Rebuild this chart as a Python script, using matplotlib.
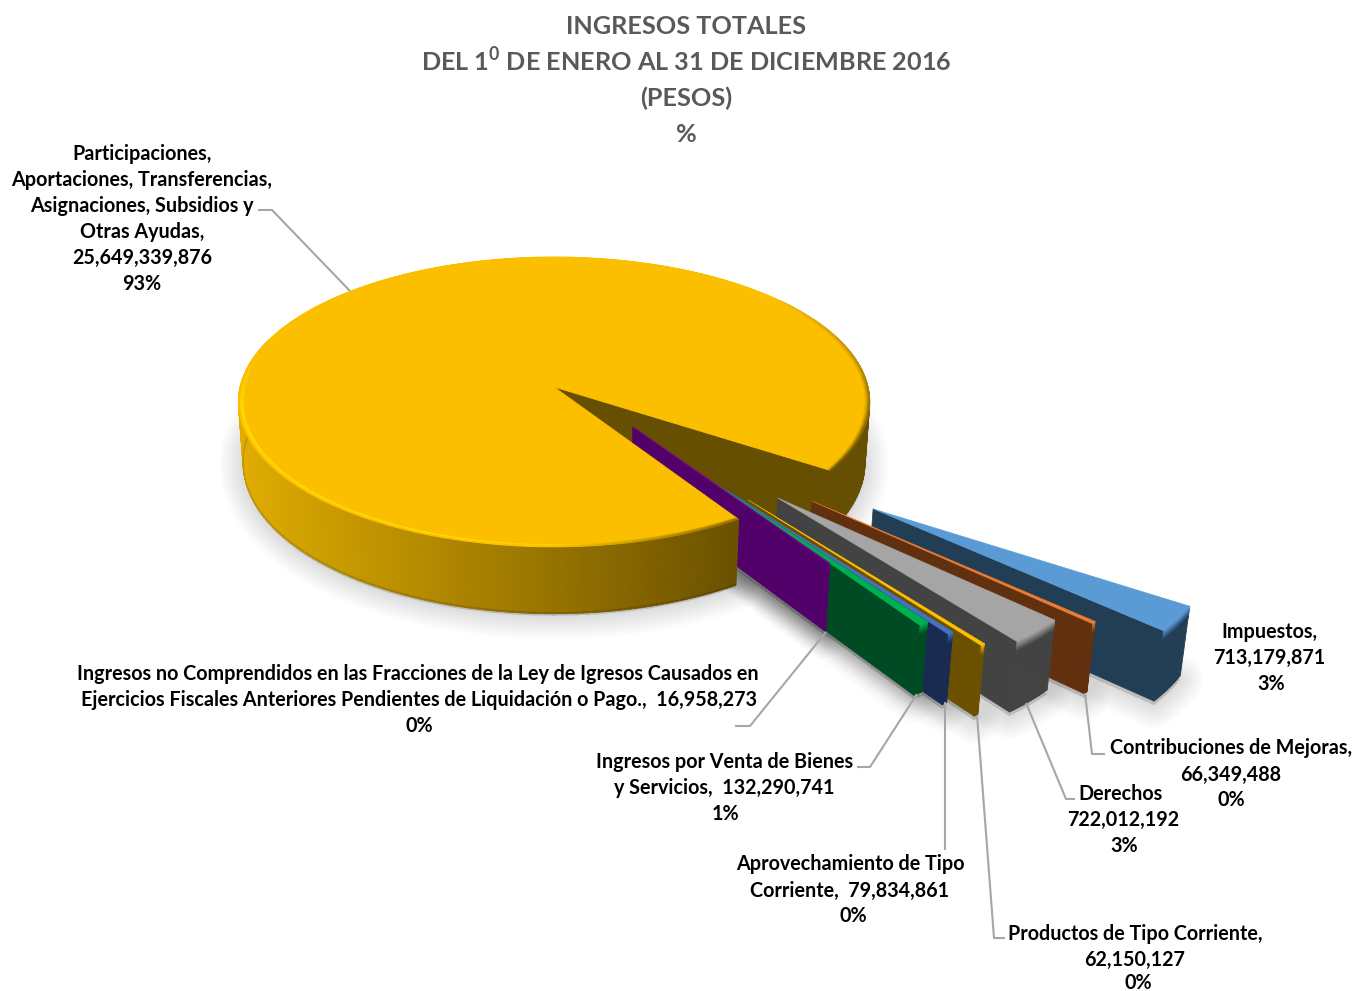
import numpy as np
import matplotlib
matplotlib.use("Agg")
import matplotlib.pyplot as plt
from matplotlib.collections import PolyCollection
from matplotlib.patches import Polygon

FONT = ['Lato', 'DejaVu Sans']
plt.rcParams['font.family'] = FONT
plt.rcParams['mathtext.fontset'] = 'custom'
plt.rcParams['mathtext.bf'] = 'Lato:bold'
plt.rcParams['mathtext.rm'] = 'Lato:bold'

# ---------- data ----------
main_name = ["Participaciones,", "Aportaciones, Transferencias,", "Asignaciones, Subsidios y", "Otras Ayudas,",
             "25,649,339,876", "93%"]
main_value = 25649339876
slice_values = [713179871, 66349488, 722012192, 62150127, 79834861, 132290741, 16958273]
slice_labels = [
    ["Impuestos,", "713,179,871", "3%"],
    ["Contribuciones de Mejoras,", "66,349,488", "0%"],
    ["Derechos", "722,012,192", "3%"],
    ["Productos de Tipo Corriente,", "62,150,127", "0%"],
    ["Aprovechamiento de Tipo", "Corriente,  79,834,861", "0%"],
    ["Ingresos por Venta de Bienes", "y Servicios,  132,290,741", "1%"],
    ["Ingresos no Comprendidos en las Fracciones de la Ley de Igresos Causados en",
     "Ejercicios Fiscales Anteriores Pendientes de Liquidación o Pago.,  16,958,273", "0%"],
]
title_lines = ["INGRESOS TOTALES", r"DEL 1$^{\mathbf{0}}$ DE ENERO AL 31 DE DICIEMBRE 2016", "(PESOS)", "%"]

# ---------- style / layout ----------
top_colors = ['#5B9BD5', '#ED7D31', '#A5A5A5', '#FFC000', '#4472C4', '#00B050', '#85009B']
wall_colors = ['#223E55', '#60300F', '#434343', '#6B5000', '#1A2B52', '#004B23', '#52006A']
explode_dist = [1.216, 1.054, 0.972, 0.924, 0.831, 0.753, 0.363]
explode_dir = [40.0, 44.2, 47.5, 52.0, 52.8, 52.8, 48.4]
label_pos = [
    [(1269, 630), (1269, 656), (1271, 682)],
    [(1231, 747), (1231, 773), (1231, 799)],
    [(1121, 792), (1123, 818), (1124, 844)],
    [(1135, 932), (1135, 958), (1138, 981.5)],
    [(850, 863), (850, 889), (853, 915)],
    [(725, 761), (724, 786), (725, 813)],
    [(418, 673), (419, 699), (419, 725)],
]
main_label_pos = [(142, 152), (142, 178), (142, 204), (142, 230), (142, 256), (142, 282)]
title_pos = [(686, 26), (686, 64), (686, 98), (686, 134)]
leaders = [
    None,
    [(1085, 693), (1092, 754), (1105, 754)],
    [(1026, 703), (1066, 799), (1075, 799)],
    [(977, 715), (994, 938), (1005, 938)],
    [(945, 702), (945, 850)],
    [(917, 694), (870, 767), (857, 767)],
    [(826, 632), (750, 726), (735, 726)],
]
main_leader = [(350, 291), (272, 210), (258, 210)]
TOP_YELLOW = np.array([252, 191, 0]) / 255
HILITE = np.array([255, 222, 0]) / 255
BROWN = np.array([102, 79, 0]) / 255

CX, CY, A, B, K, KZ, H = 555.0, 387.0, 314.0, 143.4, 0.103, 0.015, 60.0
R_SLICE = 0.977
MAIN_OU = -0.003                 # small shift of the large slice


def project(u, v, z=0.0):
    u, v = np.asarray(u, float), np.asarray(v, float)
    w = 1 - K * v
    return CX + A * u / (w * (1 + KZ * z)), CY + (B * v + H * z) / w


def rgb(c):
    return np.array(matplotlib.colors.to_rgb(c))


fig = plt.figure(figsize=(13.56, 9.91), dpi=100, facecolor='white')
ax = fig.add_axes([0, 0, 1, 1])
ax.set_xlim(0, 1356)
ax.set_ylim(991, 0)
ax.axis('off')


def arc_quads(theta, r1, z1, r2, z2, ou=0.0, ov=0.0):
    x1, y1 = project(ou + r1 * np.cos(theta), ov + r1 * np.sin(theta), z1)
    x2, y2 = project(ou + r2 * np.cos(theta), ov + r2 * np.sin(theta), z2)
    return [[(x1[i], y1[i]), (x1[i + 1], y1[i + 1]), (x2[i + 1], y2[i + 1]), (x2[i], y2[i])]
            for i in range(len(theta) - 1)]


def add_quads(quads, colors, zorder):
    ax.add_collection(PolyCollection(quads, facecolors=colors, edgecolors=colors,
                                     linewidths=0.6, zorder=zorder))


def shadow(pts, zorder, dy=2):
    pts = np.array(pts) + [0, dy]
    for lw in np.arange(34, 1, -2):
        ax.add_patch(Polygon(pts, closed=True, fc='black', ec='black', lw=lw, alpha=0.009,
                             joinstyle='round', zorder=zorder))


total = main_value + sum(slice_values)
spans = [360.0 * v / total for v in slice_values]
front_end = 57.0                 # angle where the exploded slices end (clockwise on screen)
back_start = front_end - sum(spans)
main_front = front_end + 0.5     # bevel eats a little of the large slice's cut edge

# ---------- shadows ----------
th = np.radians(np.linspace(main_front, back_start + 360, 360))
sx, sy = project(MAIN_OU + np.cos(th), np.sin(th), 1)
shadow(np.c_[np.r_[CX, sx], np.r_[CY + H, sy]], 1)

t = back_start
bounds = []
for s in spans:
    bounds.append((t, t + s))
    t += s
offsets = [(d * np.cos(np.radians(a)), d * np.sin(np.radians(a))) for d, a in zip(explode_dist, explode_dir)]
for (t1, t2), (ou, ov) in zip(bounds, offsets):
    th = np.radians(np.linspace(t1, t2, 8))
    x, y = project(ou + R_SLICE * np.cos(th), ov + R_SLICE * np.sin(th), 1)
    ax0, ay0 = project(ou, ov, 1)
    shadow(np.c_[np.r_[ax0, x], np.r_[ay0, y]], 1, dy=4)

# ---------- back of large slice: inner cut wall + right outer wall ----------
th_cut = np.radians(back_start)
xo0, yo0 = project(MAIN_OU + np.cos(th_cut), np.sin(th_cut), 0)
xo1, yo1 = project(MAIN_OU + np.cos(th_cut), np.sin(th_cut), 1)
xc0, yc0 = project(MAIN_OU, 0, 0)
xc1, yc1 = project(MAIN_OU, 0, 1)
ax.add_patch(Polygon([(xc0, yc0), (xo0, yo0), (xo1, yo1), (xc1, yc1)], fc=BROWN, ec=BROWN, lw=0.5, zorder=2))
th = np.radians(np.linspace(-40, back_start, 50))
add_quads(arc_quads(th, 1.0, 0, 1.0, 1, MAIN_OU, 0), [BROWN], 2)

# ---------- exploded slices, far to near ----------
for i, ((t1, t2), (ou, ov)) in enumerate(zip(bounds, offsets)):
    z = 3 + i
    top, wall = rgb(top_colors[i]), rgb(wall_colors[i])
    th = np.radians(np.linspace(t1, t2, 10))
    add_quads(arc_quads(th, R_SLICE, 0, R_SLICE, 1, ou, ov), [wall], z)
    zs = np.linspace(0, 0.17, 9)
    for j in range(8):
        f = j / 7
        add_quads(arc_quads(th, R_SLICE, zs[j], R_SLICE, zs[j + 1], ou, ov), [top * (1 - f) + wall * f], z)
    tf = np.radians(t2)
    ex, ey = ou + R_SLICE * np.cos(tf), ov + R_SLICE * np.sin(tf)
    p = [project(ou, ov, 0), project(ex, ey, 0), project(ex, ey, 1), project(ou, ov, 1)]
    ax.add_patch(Polygon(p, fc=wall, ec=wall, lw=0.5, zorder=z))
    x, y = project(ou + R_SLICE * np.cos(th), ov + R_SLICE * np.sin(th), 0)
    ax0, ay0 = project(ou, ov, 0)
    ax.add_patch(Polygon(np.c_[np.r_[ax0, x], np.r_[ay0, y]], fc=top, ec=top, lw=0.4, zorder=z + 0.5))

# ---------- large slice: front wall, rim, top ----------
th = np.radians(np.linspace(main_front, 200, 160))
xmid, _ = project(MAIN_OU + np.cos(th), np.sin(th), 0)
f = np.clip((xmid - 240) / (735 - 240), 0, 1)[:-1]
c_left, c_right = np.array([224, 172, 0]) / 255, np.array([108, 82, 0]) / 255
wall_cols = [c_left * (1 - a) + c_right * a for a in f]
add_quads(arc_quads(th, 1.0, 0, 1.0, 0.98, MAIN_OU, 0), wall_cols, 12)
add_quads(arc_quads(th, 1.0, 0.98, 1.0, 1, MAIN_OU, 0), [c * 0.86 for c in wall_cols], 12)

deg = np.linspace(main_front, back_start + 360, 600)
th = np.radians(deg)
R_TOP = 0.982
radii = np.linspace(R_TOP, 1.0, 6)
for j in range(5):
    frac = (j + 0.5) / 5
    cols = []
    for d in deg[:-1]:
        d0 = d % 360
        hi = np.clip((195 - d) / 25, 0, 1) * np.clip((d - 72) / 35, 0, 1) if d < 195 else 0.0
        bright = TOP_YELLOW + (HILITE - TOP_YELLOW) * hi * np.sin(np.pi * min(frac * 1.15, 1))
        near_front = np.clip((90 - d) / 30, 0, 1) if d < 90 else 0.0
        if d0 >= 320:
            right = (d0 - 320) / 70
        elif d0 < 50:
            right = (d0 + 40) / 70
        else:
            right = 0.0
        dark = max(near_front * 0.8, np.clip(right, 0, 1) * frac ** 1.5 * 1.1)
        dark = min(dark * (frac if near_front > 0 else 1), 1)
        cols.append(bright * (1 - dark) + BROWN * dark)
    add_quads(arc_quads(th, radii[j], 0, radii[j + 1], 0, MAIN_OU, 0), cols, 13)

x, y = project(MAIN_OU + R_TOP * np.cos(th), R_TOP * np.sin(th), 0)
ax.add_patch(Polygon(np.c_[np.r_[xc0, x], np.r_[yc0, y]], fc=TOP_YELLOW, ec=TOP_YELLOW, lw=0.5, zorder=14))

# ---------- leaders ----------
LEADER = '#A6A6A6'
for pts in leaders + [main_leader]:
    if pts is None:
        continue
    xs, ys = zip(*pts)
    ax.plot(xs, ys, color=LEADER, lw=1.5, zorder=20, solid_capstyle='butt')

# ---------- labels ----------
FS = 14.25
for lines, poss in zip(slice_labels + [main_name], label_pos + [main_label_pos]):
    for line, (lx, ly) in zip(lines, poss):
        ax.text(lx, ly + 7.5, line, ha='center', va='baseline', fontsize=FS, fontweight='bold',
                color='black', zorder=30)

for line, (tx, ty) in zip(title_lines, title_pos):
    ax.text(tx, ty + 8, line, ha='center', va='baseline', fontsize=18.2, fontweight='bold',
            color='#595959', zorder=30)

fig.savefig('out.png', dpi=100, facecolor='white')
